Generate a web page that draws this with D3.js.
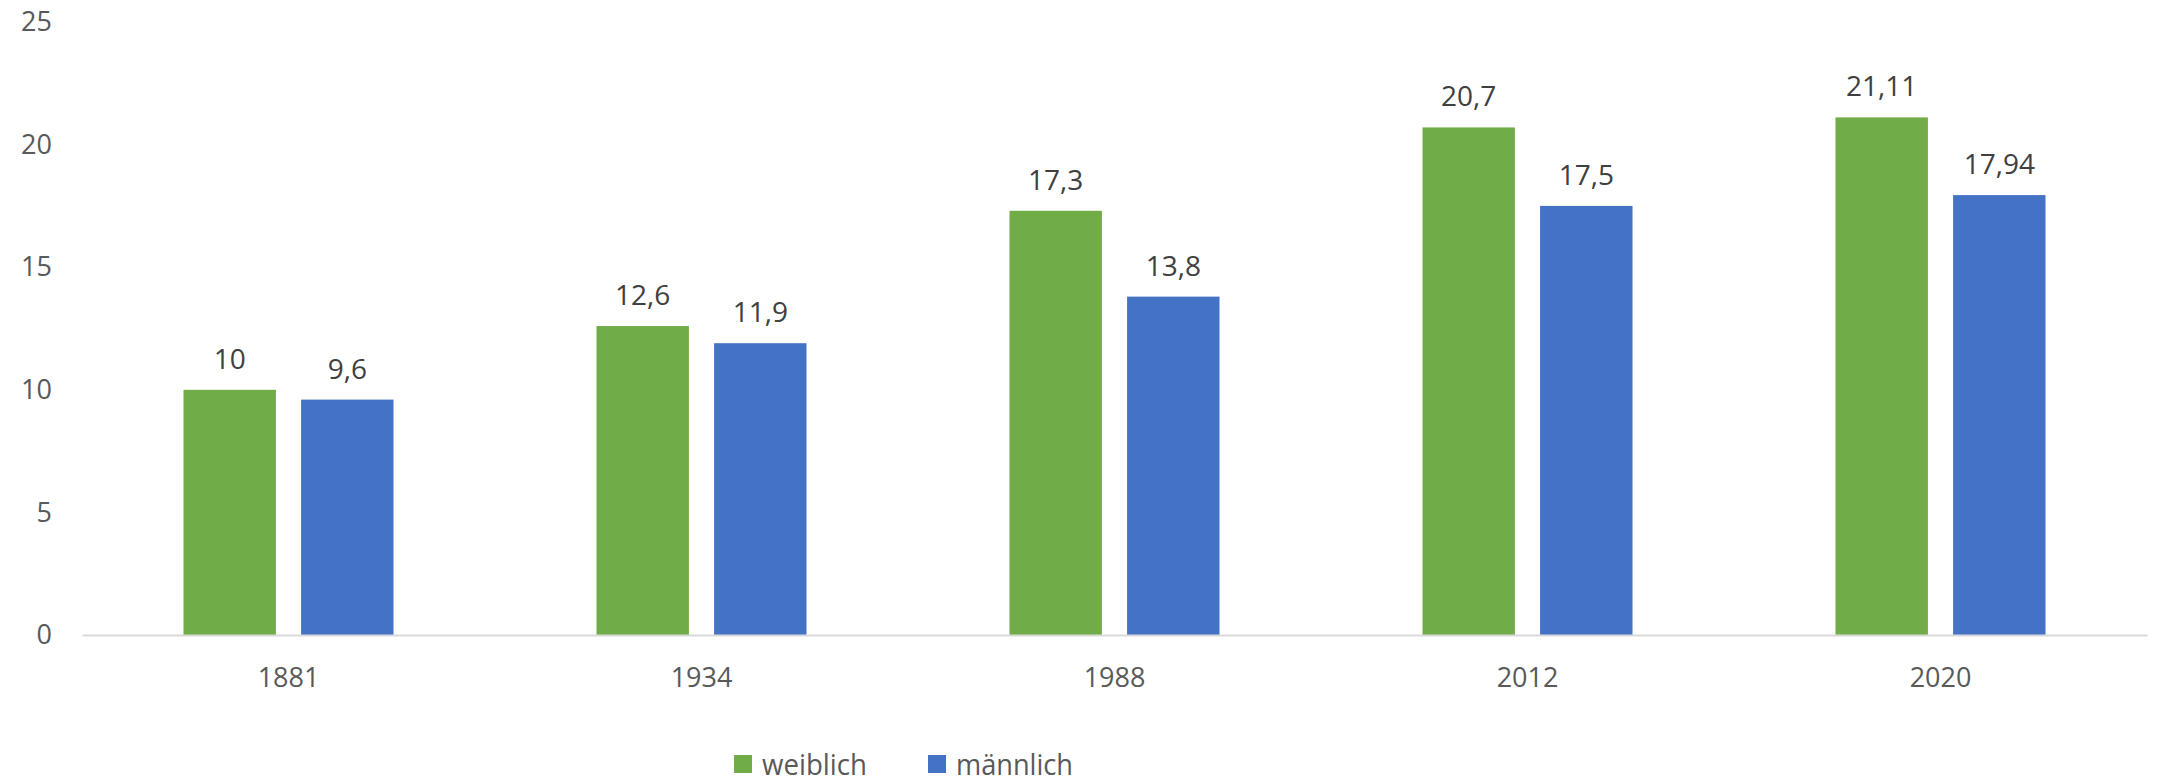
<!DOCTYPE html>
<html><head><meta charset="utf-8">
<script src="https://cdn.jsdelivr.net/npm/d3@7"></script>
<style>body{margin:0;background:#fff;} svg{display:block;}</style>
</head><body>
<svg id="c" width="2159" height="776"></svg>
<script>
(function(){
const categories = ["1881", "1934", "1988", "2012", "2020"];
const seriesNames = ["weiblich", "männlich"];
const weiblich = [10, 12.6, 17.3, 20.7, 21.11];
const maennlich = [9.6, 11.9, 13.8, 17.5, 17.94];
const yTicks = [0, 5, 10, 15, 20, 25];
const colors = ["#70AD47", "#4472C4"];

const svg = d3.select("#c");
const mLeft = 82, mRight = 2147, mTop = 22, mBottom = 635;
const font = "'Open Sans', sans-serif";
const groupW = 210;

const x = d3.scaleBand().domain(categories).range([mLeft, mRight]);
const inner = d3.scaleBand().domain(seriesNames).range([0, groupW]).paddingInner(0.214);
const y = d3.scaleLinear().domain([0, 25]).range([mBottom, mTop]);

const yAxis = d3.axisLeft(y).tickValues(yTicks).tickSize(0).tickPadding(0).tickFormat(d3.format("d"));
const ya = svg.append("g").attr("transform", `translate(${52},0)`).call(yAxis);
ya.select(".domain").remove();
ya.selectAll("text").attr("font-family", font).attr("font-size", 27).attr("fill", "#595959").attr("text-anchor", "end");

const data = categories.map((c, i) => ({cat: c, vals: [weiblich[i], maennlich[i]]}));
const fmt = v => String(v).replace(".", ",");

const groups = svg.selectAll("g.grp").data(data).join("g")
  .attr("class", "grp")
  .attr("transform", d => `translate(${x(d.cat) + (x.bandwidth() - groupW) / 2},0)`);

groups.selectAll("rect").data(d => d.vals.map((v, k) => ({v, k}))).join("rect")
  .attr("x", d => inner(seriesNames[d.k]))
  .attr("width", inner.bandwidth())
  .attr("y", d => y(d.v))
  .attr("height", d => y(0) - y(d.v))
  .attr("fill", d => colors[d.k]);

groups.selectAll("text.lbl").data(d => d.vals.map((v, k) => ({v, k}))).join("text")
  .attr("class", "lbl")
  .attr("x", d => inner(seriesNames[d.k]) + inner.bandwidth() / 2)
  .attr("y", d => y(d.v) - 21)
  .attr("text-anchor", "middle")
  .attr("font-family", font).attr("font-size", 28).attr("fill", "#404040")
  .text(d => fmt(d.v));

const xAxis = d3.axisBottom(x).tickSize(0).tickPadding(0);
const xa = svg.append("g").attr("transform", `translate(0,${mBottom})`).call(xAxis);
xa.select(".domain").attr("stroke", "#d9d9d9").attr("stroke-width", 2);
xa.selectAll("text").attr("font-family", font).attr("font-size", 27).attr("fill", "#595959").attr("dy", "1.93em");

const legendX = [734, 928];
const legendLen = [105, 117];
const lg = svg.append("g");
seriesNames.forEach((n, i) => {
  lg.append("rect").attr("x", legendX[i]).attr("y", 755).attr("width", 18).attr("height", 18).attr("fill", colors[i]);
  lg.append("text").attr("x", legendX[i] + 28).attr("y", 775)
    .attr("font-family", font).attr("font-size", 29).attr("textLength", legendLen[i]).attr("lengthAdjust", "spacingAndGlyphs")
    .attr("fill", "#595959").text(n);
});
})();
</script>
</body></html>
